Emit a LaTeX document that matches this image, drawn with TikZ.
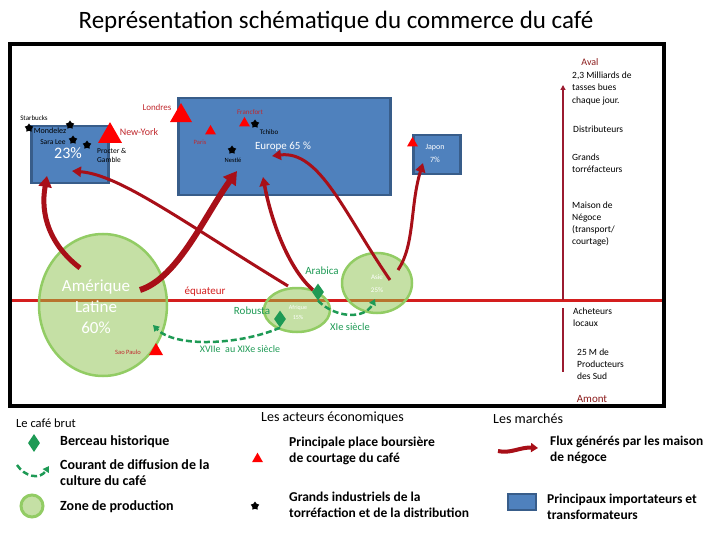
\documentclass[tikz,border=0pt]{standalone}
\usepackage{fontspec}
\setmainfont{Carlito}
\usetikzlibrary{shapes.geometric,arrows.meta}
\definecolor{boxblue}{HTML}{4F81BD}
\definecolor{boxedge}{HTML}{385D8A}
\definecolor{flux}{HTML}{A80F18}
\definecolor{townred}{HTML}{C0282D}
\definecolor{trired}{HTML}{FF0000}
\definecolor{eqred}{HTML}{D41E1E}
\definecolor{eqbrown}{HTML}{B8742E}
\definecolor{zonefill}{HTML}{C5E0A5}
\definecolor{zoneedge}{HTML}{92CC64}
\definecolor{cafegreen}{HTML}{1E9A55}
\definecolor{avalred}{HTML}{8B1A1A}
\definecolor{axisred}{HTML}{9B1B30}
\newcommand\myZone[4]{%
  \fill[zonefill] (#1,#2) ellipse [x radius=#3pt, y radius=#4pt];
  \begin{scope}
    \clip (#1,#2) ellipse [x radius=#3pt, y radius=#4pt];
    \draw[eqbrown, line width=3pt] (0,300) -- (720,300);
  \end{scope}
  \draw[zoneedge, line width=2.5pt] (#1,#2) ellipse [x radius=#3pt, y radius=#4pt];
}
\tikzset{
  blbox/.style={draw=boxedge, fill=boxblue, line width=2.5pt, anchor=north west, inner sep=0pt},
  marketTri/.style={regular polygon, regular polygon sides=3, fill=trired, inner sep=0pt, minimum size=#1},
  indus/.style={star, star points=5, star point ratio=1.6, fill=black, inner sep=0pt, minimum size=9pt},
  berceau/.style={diamond, fill=cafegreen, inner sep=0pt, minimum width=12pt, minimum height=17pt},
  txt/.style={inner sep=0pt, font=\fontsize{#1}{#1}\selectfont},
  town/.style={inner sep=0pt, text=townred, font=\fontsize{#1}{#1}\selectfont},
  rc/.style={inner sep=0pt, anchor=west, align=left, font=\fontsize{9.5}{12.2}\selectfont},
  fluxarrow/.style={draw=flux, line width=#1, -{Triangle[length=9pt,width=10pt]}},
  diffusion/.style={draw=cafegreen, line width=2.5pt, dash pattern=on 6pt off 3pt, -{Triangle[length=6pt,width=7pt]}},
  legtxt/.style={inner sep=0pt, anchor=west, align=left, font=\bfseries\fontsize{#1}{16}\selectfont},
}
\begin{document}
\begin{tikzpicture}[x=1pt,y=-1pt]
\useasboundingbox (0,0) rectangle (720,540);
% title and frame
\node[txt=25] (title) at (336,22) {Représentation schématique du commerce du café};
\draw[line width=4pt] (10,44) rectangle (664,406);

% blue boxes
\node[blbox, minimum width=77pt, minimum height=57pt] (namer) at (30,125) {};
\node[blbox, minimum width=212pt, minimum height=97pt] (europe) at (177,97) {};
\node[blbox, minimum width=47pt, minimum height=39pt] (japon) at (412,134) {};

% equator
\draw[eqred, line width=3pt] (12,300) -- (662,300);

% production zones
\myZone{103}{305}{64}{71}
\myZone{297}{310}{33}{22}
\myZone{377}{283}{35}{30}

% texts inside boxes / zones
\node[txt=16, text=white] (p23) at (68,153) {23\%};
\node[txt=11, text=white] (eur) at (283,147) {Europe 65 \%};
\node[inner sep=0pt, text=white, align=center, font=\fontsize{8}{13}\selectfont] (jap) at (435,153.5) {Japon\\7\%};
\node[inner sep=0pt, text=white, align=center, font=\fontsize{17}{21}\selectfont] (aml) at (96,307) {Amérique\\Latine\\60\%};
\node[inner sep=0pt, text=white, align=center, font=\fontsize{6}{10}\selectfont] (afr) at (298,312) {Afrique\\15\%};
\node[inner sep=0pt, text=white, align=center, font=\fontsize{7}{13}\selectfont] (asi) at (377,283.5) {Asie\\25\%};

% city labels
\node[town=9] (lon) at (157,107) {Londres};
\node[town=10] (ny) at (139,132) {New-York};
\node[town=7] (fra) at (250,112) {Francfort};
\node[town=6.5] (par) at (200,142) {Paris};
\node[town=6.5] (sao) at (128,352) {Sao Paulo};

% firms
\node[txt=7] (starb) at (34,118) {Starbucks};
\node[txt=8] (mond) at (50,131) {Mondelez};
\node[txt=7.5] (sara) at (53,142) {Sara Lee};
\node[inner sep=0pt, anchor=west, align=left, font=\fontsize{7.5}{9.5}\selectfont] (proc) at (97,155.5) {Procter \&\\Gamble};
\node[txt=7] (tchi) at (269,132) {Tchibo};
\node[txt=6.5] (nest) at (233,160) {Nestlé};

% market triangles
\node[marketTri=25.4pt] (tlon) at (181,115.7) {};
\node[marketTri=27.7pt] (tny) at (110,136) {};
\node[marketTri=12.7pt] (tpar) at (210.5,131.3) {};
\node[marketTri=12.7pt] (tfra) at (244.5,123.3) {};
\node[marketTri=12.7pt] (tjap) at (412.5,143.3) {};
\node[marketTri=16.2pt] (tsao) at (156,351) {};

% industrial stars
\node[indus] (sstarb) at (29,128) {};
\node[indus] (smond) at (70,125) {};
\node[indus] (ssara) at (73,140) {};
\node[indus] (sproc) at (87,145) {};
\node[indus] (stchi) at (255,124) {};
\node[indus] (snest) at (232,150) {};

% flow anchor points
\coordinate (amA) at (140,290);
\coordinate (amB) at (80,268);
\coordinate (afA) at (288,286);
\coordinate (afB) at (313,290);
\coordinate (asA) at (390,280);
\coordinate (asB) at (398,270);
\coordinate (naIn) at (72,171);
\coordinate (naLow) at (47,176);
\coordinate (euNest) at (237,171);
\coordinate (euMid) at (263,177);
\coordinate (euTop) at (272,156);
\coordinate (jpIn) at (423,163);

% red flows
\draw[fluxarrow=6pt, -{Triangle[length=13pt,width=15pt]}] (amA) .. controls (178,278) and (205,215) .. (euNest);
\draw[fluxarrow=5pt, -{Triangle[length=11pt,width=13pt]}] (amB) .. controls (50,245) and (40,215) .. (naLow);
\draw[fluxarrow=3pt] (afA) .. controls (180,220) and (120,175) .. (naIn);
\draw[fluxarrow=3.5pt] (afB) .. controls (290,270) and (272,225) .. (euMid);
\draw[fluxarrow=3pt] (asA) .. controls (345,215) and (320,150) .. (euTop);
\draw[fluxarrow=3pt] (asB) .. controls (415,245) and (410,205) .. (jpIn);

% green labels
\node[txt=11, text=eqred] (equ) at (205,292) {équateur};
\node[txt=11, text=cafegreen] (rob) at (252,311) {Robusta};
\node[txt=11, text=cafegreen] (arab) at (322,271) {Arabica};
\node[txt=10.5, text=cafegreen] (xie) at (350,327) {XIe siècle};
\node[txt=10, text=cafegreen] (xvii) at (240,349) {XVIIe\ \ au XIXe siècle};

% diffusion
\coordinate (asDiff) at (375,299);
\coordinate (amDiff) at (153,325);
\node[berceau] (darab) at (318,292) {};
\node[berceau] (drob) at (280,319) {};
\draw[diffusion] (darab.south) .. controls (335,318) and (365,320) .. (asDiff);
\draw[diffusion] (drob.south) .. controls (240,345) and (175,348) .. (amDiff);

% right axis
\coordinate (axTop) at (563,85);
\coordinate (axEq) at (563,300);
\coordinate (axLo1) at (563,308);
\coordinate (axLo2) at (563,372);
\draw[axisred, line width=2pt, -{Triangle[length=5pt,width=5pt]}] (axEq) -- (axTop);
\draw[axisred, line width=2pt] (axLo1) -- (axLo2);
\node[inner sep=0pt, text=avalred, font=\fontsize{10}{10}\selectfont] (aval) at (590,62) {Aval};
\node[inner sep=0pt, text=avalred, font=\fontsize{11}{11}\selectfont] (amont) at (592,399) {Amont};
\node[rc] (r1) at (572,88.5) {2,3 Milliards de\\tasses bues\\chaque jour.};
\node[rc] (r2) at (573,129) {Distributeurs};
\node[rc] (r3) at (572,163.5) {Grands\\torréfacteurs};
\node[rc] (r4) at (572,224) {Maison de\\Négoce\\(transport/\\courtage)};
\node[rc] (r5) at (573,317) {Acheteurs\\locaux};
\node[rc] (r6) at (577,364) {25 M de\\Producteurs\\des Sud};

% legend: le café brut
\node[inner sep=0pt, anchor=west, font=\fontsize{12.5}{12.5}\selectfont] (lg1) at (16,423) {Le café brut};
\node[berceau, minimum height=18pt] (lgd) at (34,443) {};
\node[legtxt=14] (lgdt) at (60,442) {Berceau historique};
\coordinate (lgaS) at (17,465);
\coordinate (lgaE) at (49,466);
\draw[diffusion] (lgaS) .. controls (25,477) and (40,480) .. (lgaE);
\node[legtxt=14] (lgat) at (60,473) {Courant de diffusion de la\\culture du café};
\node[circle, fill=zonefill, draw=zoneedge, line width=3pt, minimum size=22pt, inner sep=0pt] (lgc) at (32,506) {};
\node[legtxt=14] (lgct) at (60,507) {Zone de production};

% legend: acteurs
\node[inner sep=0pt, anchor=west, font=\fontsize{14}{14}\selectfont] (lg2) at (261,418) {Les acteurs économiques};
\node[marketTri=12.7pt] (lgt) at (257.5,459) {};
\node[legtxt=13.6] (lgtt) at (289,451) {Principale place boursière\\de courtage du café};
\node[indus] (lgs) at (255,506) {};
\node[legtxt=13.5] (lgst) at (289,504.5) {Grands industriels de la\\torréfaction et de la distribution};

% legend: marchés
\node[inner sep=0pt, anchor=west, font=\fontsize{14}{14}\selectfont] (lg3) at (493,419) {Les marchés};
\coordinate (lgfS) at (498,451);
\coordinate (lgfE) at (538,448);
\draw[fluxarrow=4pt, -{Triangle[length=7pt,width=9pt]}] (lgfS) .. controls (510,454) and (520,447) .. (lgfE);
\node[legtxt=13.4] (lgft) at (550,449.5) {Flux générés par les maison\\de négoce};
\node[blbox, minimum width=28pt, minimum height=16pt, line width=2pt] (lgb) at (507,493) {};
\node[legtxt=13.5] (lgbt) at (547,506.5) {Principaux importateurs et\\transformateurs};
\end{tikzpicture}
\end{document}
